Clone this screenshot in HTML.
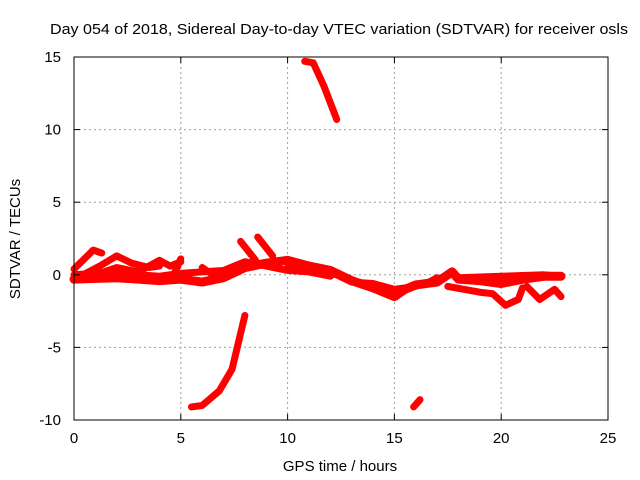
<!DOCTYPE html>
<html><head><meta charset="utf-8"><style>
body{margin:0;background:#fff;}
svg{display:block;font-family:"Liberation Sans",sans-serif;font-size:15px;}
</style></head><body>
<svg id="chart" width="640" height="480">
<text x="50" y="34" textLength="578" lengthAdjust="spacingAndGlyphs">Day 054 of 2018, Sidereal Day-to-day VTEC variation (SDTVAR) for receiver osls</text>
<text x="340" y="471" text-anchor="middle">GPS time / hours</text>
<text transform="translate(20,239) rotate(-90)" text-anchor="middle">SDTVAR / TECUs</text>
<g id="grid"></g><g id="marks"></g>
<rect x="74" y="57" width="534" height="363" fill="none" stroke="#000"/>
<g id="ticks"></g>
</svg>
<script>
const xTicks=[0,5,10,15,20,25];
const yTicks=[-10,-5,0,5,10,15];
const tracks=[
 [[0,-0.3],[2,-0.2],[4,-0.4],[5,-0.3],[6,-0.5],[7,-0.2],[8,0.5],[9,0.8],[10,1.0],[11,0.6],[12,0.3],[13,-0.4],[14,-0.9],[15,-1.5],[15.5,-1.0],[16,-0.7],[17,-0.5],[17.7,0.2],[18,-0.3],[19,-0.4],[20,-0.6],[21,-0.3],[22,-0.1],[22.8,-0.1]],
 [[0,0.4],[0.9,1.7],[1.3,1.5]],
 [[0.3,-0.1],[1.2,0.6],[2,1.3],[2.7,0.8],[3.5,0.5],[4,0.6]],
 [[1,0],[2,0.5],[3,0.2],[4,1.0],[4.5,0.6],[5,0.9]],
 [[0,0],[2,0.2],[3,0],[4,-0.1],[5,0.1],[6,0.2],[7,0.3],[8,0.9],[9,0.6],[10,0.3],[11,0.2],[12,-0.1]],
 [[4.7,0.1],[5,1.1]],
 [[6,0.5],[6.6,-0.1]],
 [[7.8,2.3],[8.5,1.0]],
 [[8.6,2.6],[9.3,1.3]],
 [[10,0.5],[11,0.3],[12.3,0],[13,-0.5],[14,-0.6],[15,-1.0],[16,-0.8]],
 [[16.5,-0.6],[17,-0.2]],
 [[17.5,-0.8],[19,-1.2],[19.6,-1.3],[20.2,-2.1],[20.8,-1.7],[21,-0.9]],
 [[21.2,-0.8],[21.8,-1.7],[22.5,-1.0],[22.8,-1.5]],
 [[18,-0.2],[20,-0.1],[22,0],[22.8,-0.1]],
 [[5.5,-9.1],[6,-9.0],[6.8,-8.0],[7.4,-6.5],[8,-2.8]],
 [[10.8,14.7],[11.2,14.6],[11.7,13.0],[12.3,10.7]],
 [[15.9,-9.1],[16.2,-8.6]]
];
const X=v=>74+v*(534/25), Y=v=>420-(v+10)*(363/25);
const ns="http://www.w3.org/2000/svg";
const grid=document.getElementById('grid'),ticks=document.getElementById('ticks'),marks=document.getElementById('marks');
function mk(tag,attrs,parent){const e=document.createElementNS(ns,tag);for(const k in attrs)e.setAttribute(k,attrs[k]);parent.appendChild(e);return e;}
xTicks.forEach(t=>{
 if(t>0&&t<25){const g=mk('line',{x1:X(t),x2:X(t),y1:57,y2:420,stroke:'#a0a0a0','stroke-dasharray':'2,3'},grid);
 
 }
 mk('line',{x1:X(t),x2:X(t),y1:420,y2:414,stroke:'#000'},ticks);
 mk('line',{x1:X(t),x2:X(t),y1:57,y2:63,stroke:'#000'},ticks);
 const l=mk('text',{x:X(t),y:443,'text-anchor':'middle'},ticks);l.textContent=t;
 
 
});
yTicks.forEach(t=>{
 if(t>-10&&t<15){const g=mk('line',{x1:74,x2:608,y1:Y(t),y2:Y(t),stroke:'#a0a0a0','stroke-dasharray':'2,3'},grid);
 
 }
 mk('line',{x1:74,x2:80,y1:Y(t),y2:Y(t),stroke:'#000'},ticks);
 mk('line',{x1:608,x2:602,y1:Y(t),y2:Y(t),stroke:'#000'},ticks);
 const l=mk('text',{x:61,y:Y(t)+5,'text-anchor':'end'},ticks);l.textContent=t;
 
 
});
tracks.forEach((tr,i)=>{
 const p=mk('polyline',{points:tr.map(d=>X(d[0])+','+Y(d[1])).join(' '),fill:'none',stroke:'#ff0000','stroke-width':i===0?9:7,'stroke-linejoin':'round','stroke-linecap':'round'},marks);
 
 
});
</script>
</body></html>
